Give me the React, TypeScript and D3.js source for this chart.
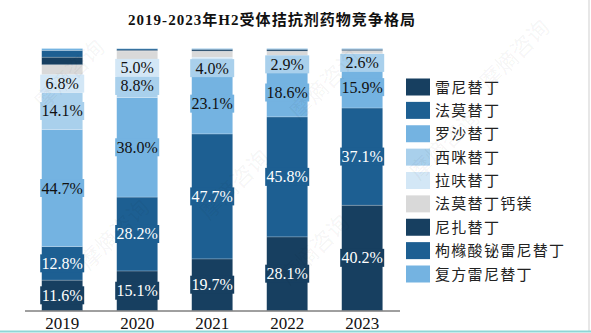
import React from "react";
import * as d3 from "d3";

const years = ["2019", "2020", "2021", "2022", "2023"];
const seriesNames = [
  "雷尼替丁",
  "法莫替丁",
  "罗沙替丁",
  "西咪替丁",
  "拉呋替丁",
  "法莫替丁钙镁",
  "尼扎替丁",
  "枸橼酸铋雷尼替丁",
  "复方雷尼替丁",
];
const ranitidine = [11.6, 15.1, 19.7, 28.1, 40.2];
const famotidine = [12.8, 28.2, 47.7, 45.8, 37.1];
const roxatidine = [44.7, 38.0, 23.1, 18.6, 15.9];
const cimetidine = [14.1, 8.8, 4.0, 2.9, 2.6];
const lafutidine = [6.8, 5.0, 2.2, 2.0, 2.2];
const famotidineCaMg = [3.8, 4.0, 2.3, 1.6, 1.2];
const nizatidine = [2.9, 0.3, 0.5, 0.5, 0.4];
const bismuthRanitidine = [2.6, 0.5, 0.3, 0.3, 0.2];
const compoundRanitidine = [0.7, 0.1, 0.2, 0.2, 0.2];
const seriesValues = [
  ranitidine,
  famotidine,
  roxatidine,
  cimetidine,
  lafutidine,
  famotidineCaMg,
  nizatidine,
  bismuthRanitidine,
  compoundRanitidine,
];
const colors = [
  "#173f60",
  "#1d5f92",
  "#74b3e1",
  "#a9d0ec",
  "#d3e7f6",
  "#d9d9d9",
  "#173f60",
  "#1d5f92",
  "#74b3e1",
];
const title = "2019-2023年H2受体拮抗剂药物竞争格局";

export default function App() {
  const W = 591;
  const H = 333;
  const x = d3
    .scaleBand<string>()
    .domain(years)
    .range([7.7, 416.7])
    .paddingInner(0.4533)
    .paddingOuter(0.4533);
  const y = d3.scaleLinear().domain([0, 100]).range([310.5, 48.5]);

  const table = years.map((yr, j) => {
    const row: Record<string, any> = { year: yr };
    seriesNames.forEach((s, i) => (row[s] = seriesValues[i][j]));
    return row;
  });
  const stacked = d3.stack<any>().keys(seriesNames)(table);

  const legendY = d3.scaleLinear().domain([0, 8]).range([87, 274]);

  const watermarks = [
    [75, 80],
    [240, 190],
    [330, 90],
    [450, 150],
    [120, 240],
    [320, 255],
    [520, 60],
  ];

  return (
    <svg
      width={W}
      height={H}
      style={{ position: "absolute", left: 0, top: 0, background: "#fff" }}
    >
      <rect x={0} y={0} width={W} height={H} fill="#fff" />
      <text
        x={128}
        y={25}
        fontFamily="'Liberation Serif', 'Noto Sans CJK SC', serif"
        fontWeight="bold"
        fontSize={15}
        textLength={287}
        lengthAdjust="spacing"
        fill="#111"
      >
        {title}
      </text>

      {stacked.map((layer, i) => (
        <g key={seriesNames[i]}>
          {layer.map((d, j) => {
            const y0 = y(d[0]);
            const y1 = y(d[1]);
            return (
              <rect
                key={j}
                x={x(years[j])}
                y={y1}
                width={x.bandwidth()}
                height={Math.max(0, y0 - y1)}
                fill={colors[i]}
                stroke="#ffffff"
                strokeOpacity={0.35}
                strokeWidth={0.6}
              />
            );
          })}
        </g>
      ))}

      {stacked.map((layer, i) =>
        i < 5 ? (
          <g key={"lab" + i}>
            {layer.map((d, j) => {
              const v = seriesValues[i][j];
              if (v < 2.5) return null;
              const cx = (x(years[j]) as number) + x.bandwidth() / 2;
              const cy = (y(d[0]) + y(d[1])) / 2;
              return (
                <g key={j}>
                  <rect
                    x={cx - 22}
                    y={cy - 9}
                    width={44}
                    height={18}
                    fill={colors[i]}
                  />
                  <text
                    x={cx}
                    y={cy + 5.5}
                    textAnchor="middle"
                    fontFamily="'Liberation Serif', serif"
                    fontSize={16}
                    fill={i < 2 ? "#ffffff" : "#111111"}
                  >
                    {v.toFixed(1) + "%"}
                  </text>
                </g>
              );
            })}
          </g>
        ) : null
      )}

      <line x1={25} x2={400} y1={311} y2={311} stroke="#404040" strokeWidth={1} />
      {years.map((yr) => (
        <text
          key={yr}
          x={(x(yr) as number) + x.bandwidth() / 2}
          y={329}
          textAnchor="middle"
          fontFamily="'Liberation Serif', serif"
          fontSize={17}
          fill="#111"
        >
          {yr}
        </text>
      ))}

      {seriesNames.map((s, i) => (
        <g key={"leg" + i}>
          <rect
            x={406}
            y={legendY(i) - 8.5}
            width={24}
            height={17}
            fill={colors[i]}
          />
          <text
            x={435}
            y={legendY(i) + 5.5}
            fontFamily="'Noto Sans CJK SC', sans-serif"
            fontSize={15}
            letterSpacing={1.3}
            fill="#222"
          >
            {s}
          </text>
        </g>
      ))}

      {watermarks.map(([wx, wy], k) => (
        <text
          key={"wm" + k}
          x={wx}
          y={wy}
          transform={`rotate(-45 ${wx} ${wy})`}
          textAnchor="middle"
          fontFamily="'Noto Sans CJK SC', sans-serif"
          fontSize={22}
          fill="#000"
          fillOpacity={0.05}
        >
          摩熵咨询
        </text>
      ))}

      <line x1={589} x2={589} y1={0} y2={331} stroke="#cfcfcf" strokeWidth={1} />
      <line x1={0} x2={W} y1={331.5} y2={331.5} stroke="#8ed6d6" strokeWidth={2} />
    </svg>
  );
}
